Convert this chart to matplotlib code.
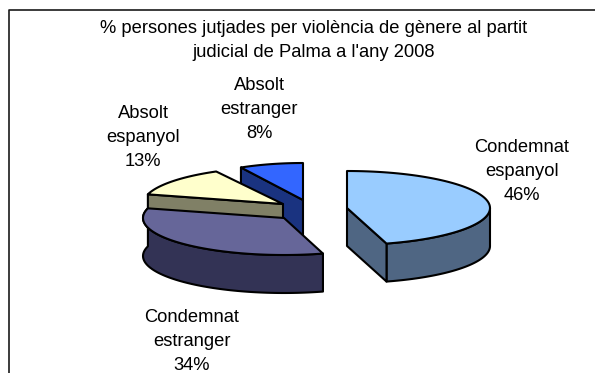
import numpy as np
import matplotlib
matplotlib.use('Agg')
import matplotlib.pyplot as plt
from matplotlib.patches import Polygon

plt.rcParams['font.family'] = ['Liberation Sans', 'DejaVu Sans']

title = "% persones jutjades per violència de gènere al partit\njudicial de Palma a l'any 2008"
labels = ['Condemnat\nespanyol', 'Condemnat\nestranger', 'Absolt\nespanyol', 'Absolt\nestranger']
values = [46, 34, 13, 8]

top_colors = ['#99CCFF', '#666699', '#FFFFCC', '#3366FF']
side_colors = ['#4F6683', '#333355', '#808066', '#1A3380']

# exploded centre of each slice, in pixels
centers = [(347, 208), (284, 218), (283, 204), (303, 200)]
label_pos = [(522, 171.5), (192, 341.5), (143, 137.5), (259, 109.5)]

# perspective makes the far left slices a bit narrower
radii_x = [143, 141, 140, 130]
ry = 37
depths = [38, 38, 22, 38]

fig = plt.figure(figsize=(5.95, 3.73), dpi=100)
ax = fig.add_axes([0, 0, 1, 1])
ax.set_xlim(0, 595)
ax.set_ylim(373, 0)
ax.axis('off')


def rim(c, rx, a0, a1):
    # angles clockwise from 12 o'clock, projected on the ellipse
    a = np.radians(np.linspace(a0, a1, 80))
    return np.column_stack([c[0] + rx*np.sin(a), c[1] - ry*np.cos(a)])


def face(pts, color, z):
    ax.add_patch(Polygon(pts, closed=True, fc=color, ec='black', lw=1.5, joinstyle='round', zorder=z))


edges = np.cumsum([0] + values) / sum(values) * 360
# back slices first, the big front ones over them
for i in [3, 2, 1, 0]:
    a0, a1 = edges[i], edges[i+1]
    c = np.array(centers[i], dtype=float)
    rx = radii_x[i]
    down = np.array([0, depths[i]])
    z = 4 - i
    r = rim(c, rx, a0, a1)
    if i == 1:
        face(np.vstack([r, (r+down)[::-1]]), side_colors[i], z)
    elif i == 0:
        front = rim(c, rx, 90, a1)
        face(np.vstack([front, (front+down)[::-1]]), side_colors[i], z)
        face(np.array([c, r[-1], r[-1]+down, c+down]), side_colors[i], z)
    else:
        # cut face on the start side
        face(np.array([r[0], c, c+down, r[0]+down]), side_colors[i], z)
    face(np.vstack([c, r]), top_colors[i], z)

# chart frame, only top and left fall inside the crop
ax.plot([595, 9, 9], [10, 10, 373], color='#1a1a1a', lw=1.2, zorder=6)

ax.text(313.5, 40.5, title, ha='center', va='center', fontsize=13.2, linespacing=1.54, zorder=7)
for name, v, p in zip(labels, values, label_pos):
    ax.text(p[0], p[1], f'{name}\n{v}%', ha='center', va='center', fontsize=13.2,
            linespacing=1.54, zorder=7)

fig.savefig('out.png', dpi=100)
